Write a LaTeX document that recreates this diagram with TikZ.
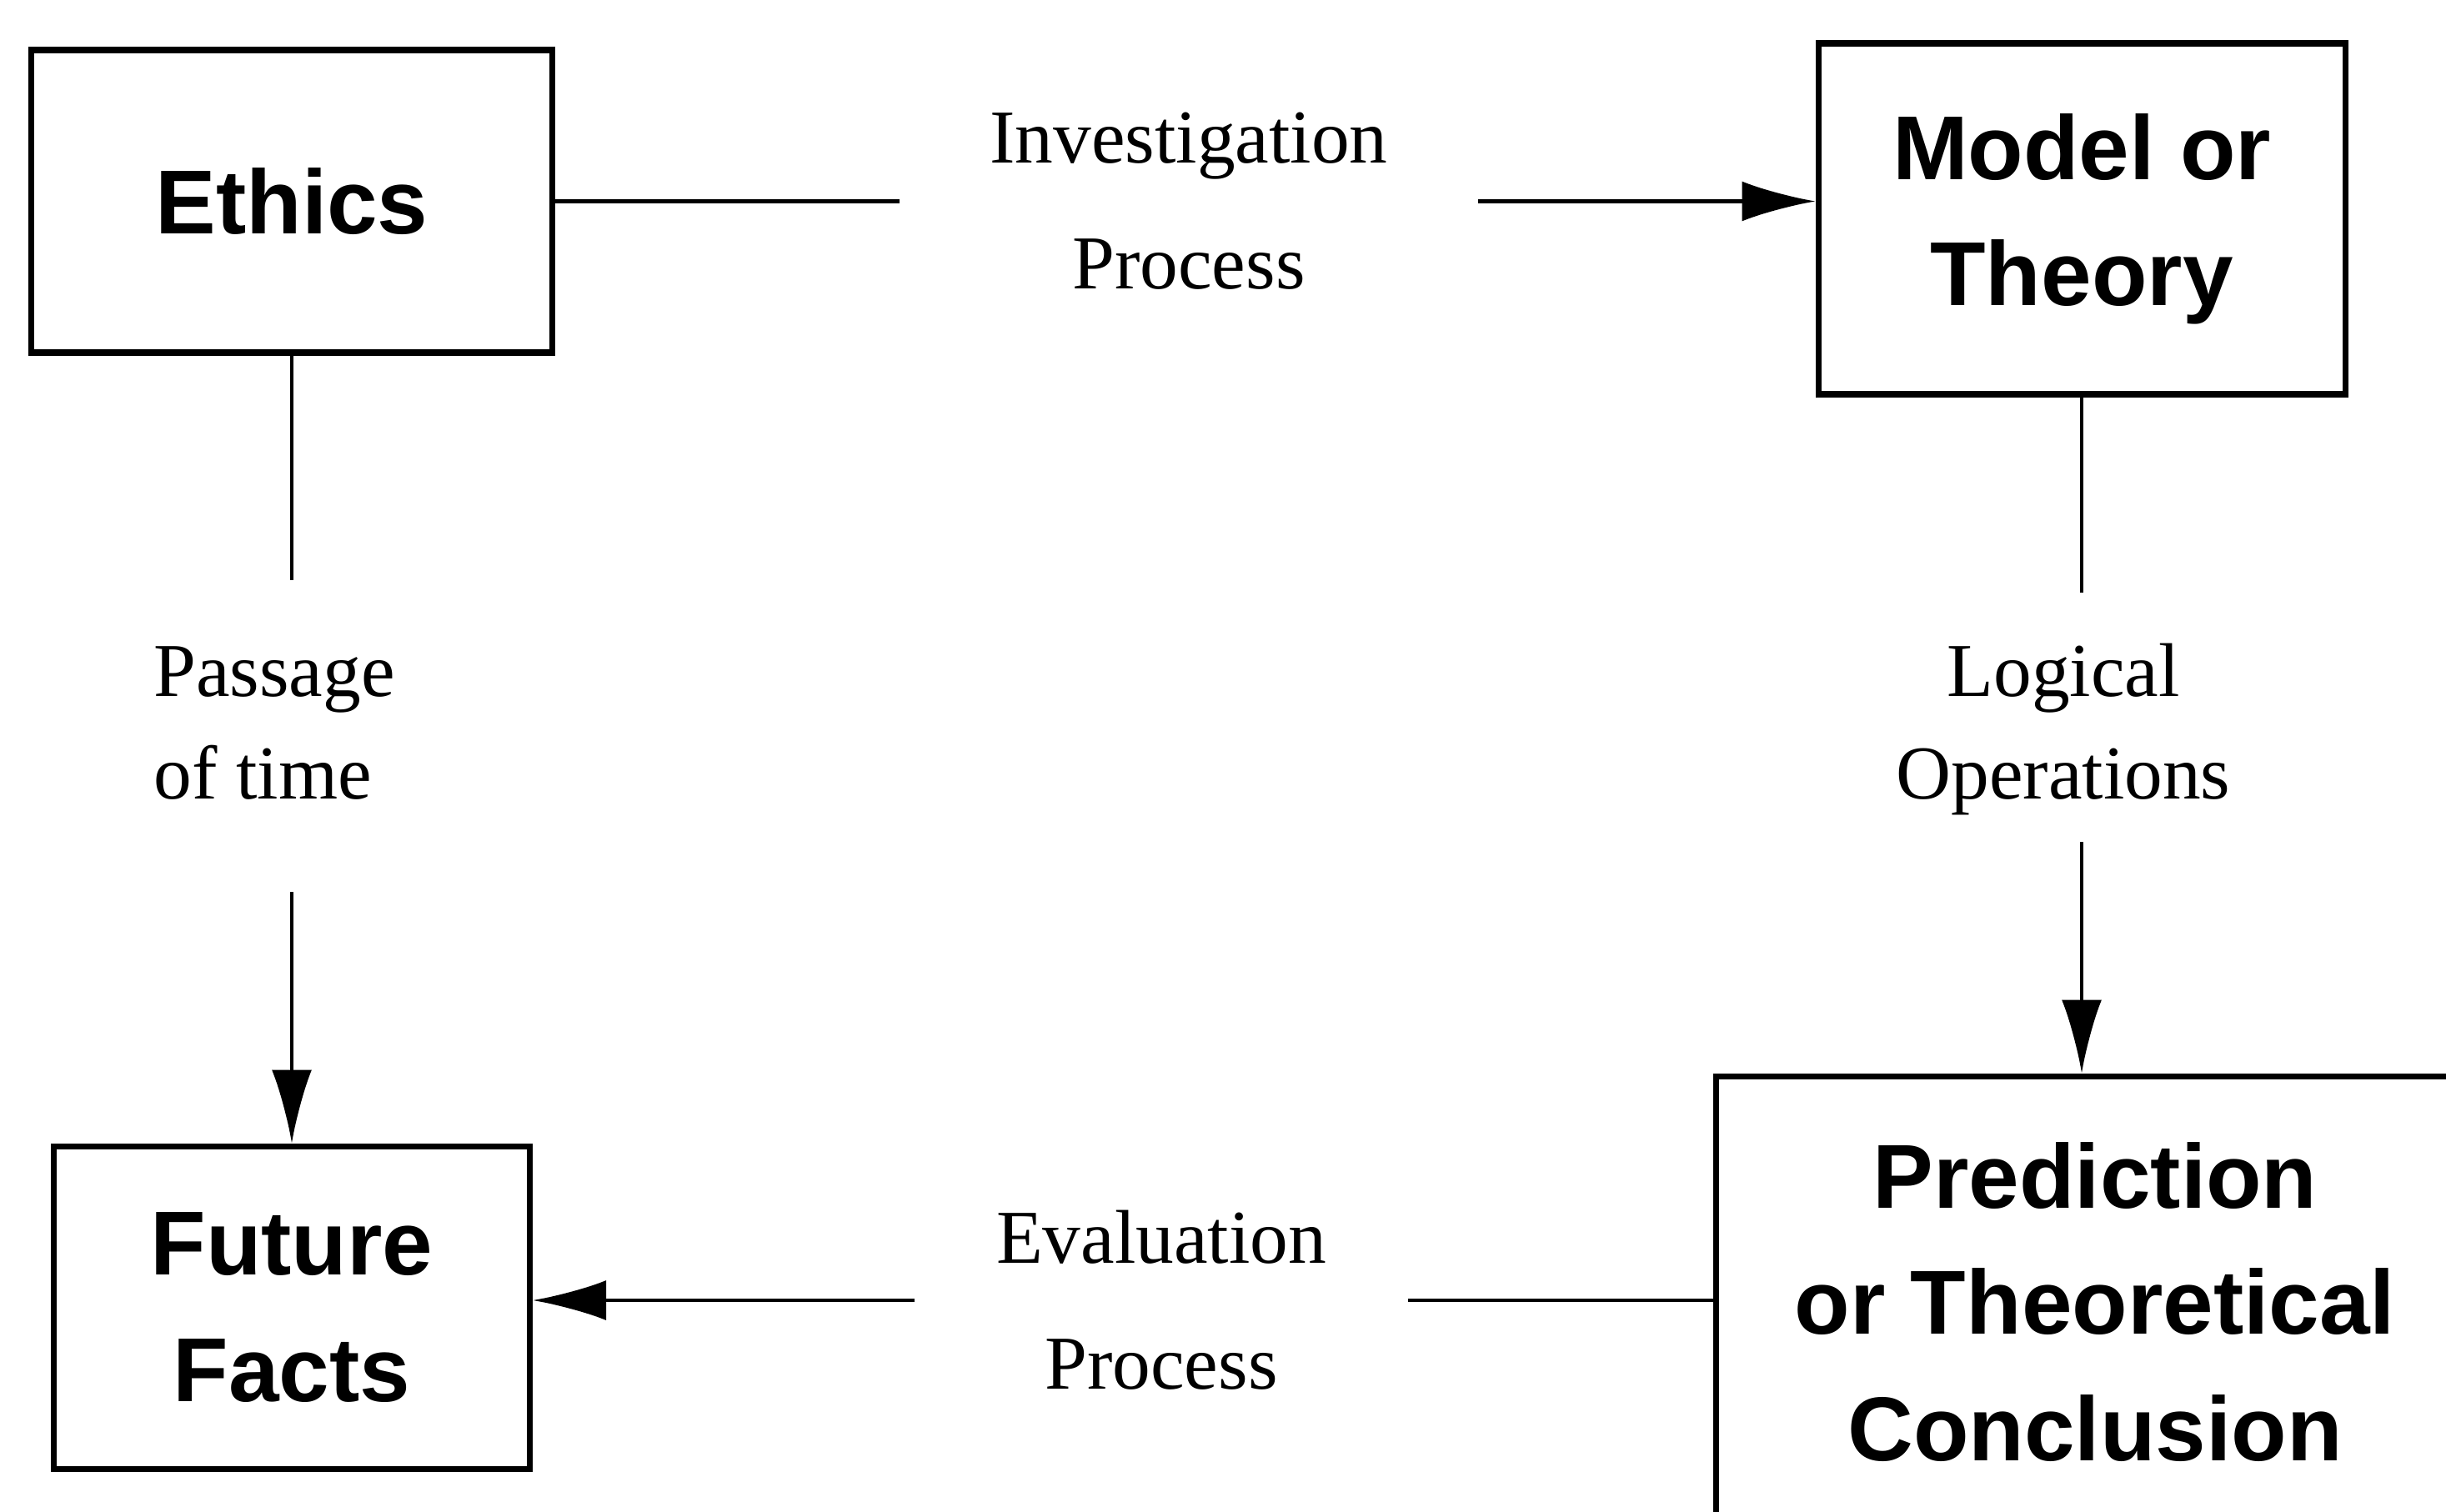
\documentclass[tikz,border=0pt]{standalone}
\usepackage{fontspec}
\setmainfont{Liberation Serif}
\newfontfamily\boxfont{Liberation Sans}
\usetikzlibrary{arrows.meta}

\begin{document}
\begin{tikzpicture}
	\tikzstyle{stage}=[draw, line width=2pt, align=center, inner sep=0pt, font=\boxfont\bfseries\fontsize{31}{43}\selectfont]
	\tikzstyle{step label}=[align=center, inner sep=0pt, font=\fontsize{26}{43}\selectfont]
	\tikzstyle{tight label}=[step label, font=\fontsize{26}{35}\selectfont]
	\tikzstyle{link}=[line width=1.3pt]
	\tikzstyle{flow}=[link, -{Latex[length=8.8mm, width=4.8mm]}]

	\useasboundingbox (0,0) rectangle (29.34,-18.13);
	\clip (0,0) rectangle (29.34,-18.13);

	% the four boxes
	\node[stage, minimum width=6.25cm, minimum height=3.63cm] (ethics) at (3.50,-2.415) {Ethics};
	\node[stage, minimum width=6.32cm, minimum height=4.21cm] (model) at (24.97,-2.625) {Model or\\Theory};
	\node[stage, minimum width=5.71cm, minimum height=3.87cm] (future) at (3.50,-15.685) {Future\\Facts};
	\node[stage, minimum width=9.10cm, minimum height=5.42cm] (pred) at (25.13,-15.62) {Prediction\\or Theoretical\\Conclusion};

	% labels between the line segments
	\node[step label, minimum width=6.92cm] (invest) at (14.26,-2.415) {Investigation\\Process};
	\node[tight label, align=left] (passage) at (3.29,-8.68) {Passage\\of time};
	\node[tight label] (logic) at (24.75,-8.755) {Logical\\Operations};
	\node[step label, minimum width=5.90cm] (eval) at (13.93,-15.60) {Evaluation\\Process};

	% ends of the broken vertical lines
	\coordinate (passage top) at (ethics.south |- 0,-6.96);
	\coordinate (passage bottom) at (ethics.south |- 0,-10.70);
	\coordinate (logic top) at (model.south |- 0,-7.11);
	\coordinate (logic bottom) at (model.south |- 0,-10.10);

	% connectors
	\draw[link] (ethics.east) -- (invest.west);
	\draw[flow] (invest.east) -- (invest.east -| model.west);
	\draw[link] (model.south) -- (logic top);
	\draw[flow] (logic bottom) -- (logic bottom |- pred.north);
	\draw[link] (pred.west |- eval.east) -- (eval.east);
	\draw[flow] (eval.west) -- (eval.west -| future.east);
	\draw[link] (ethics.south) -- (passage top);
	\draw[flow] (passage bottom) -- (future.north);
\end{tikzpicture}
\end{document}
